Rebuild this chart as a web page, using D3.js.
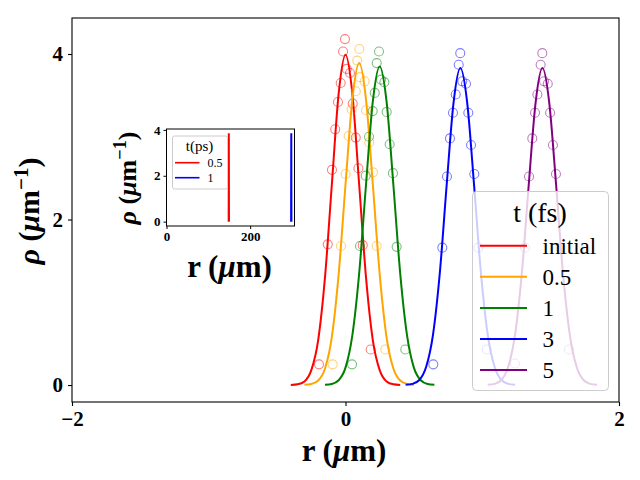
<!DOCTYPE html>
<html>
<head>
<meta charset="utf-8">
<script src="https://cdn.jsdelivr.net/npm/d3@7"></script>
<style>
  body { margin: 0; background: #fff; }
  svg { display: block; font-family: "Liberation Serif", serif; }
</style>
</head>
<body>
<div id="chart"></div>
<script>
// legend entries and colours
const seriesNames = ["initial", "0.5", "1", "3", "5"];
const seriesColors = ["red", "orange", "green", "blue", "purple"];

// fitted profiles, r in um and rho in 1/um
const curveRInitial = [-0.40, -0.35, -0.30, -0.25, -0.20, -0.15, -0.10, -0.05, 0.00, 0.05, 0.10, 0.15, 0.20, 0.25, 0.30, 0.35, 0.40];
const curveRhoInitial = [0.001, 0.009, 0.044, 0.18, 0.54, 1.30, 2.42, 3.52, 3.99, 3.52, 2.42, 1.30, 0.54, 0.18, 0.044, 0.009, 0.001];
const curveR05 = [-0.30, -0.25, -0.20, -0.15, -0.10, -0.05, 0.00, 0.05, 0.10, 0.15, 0.20, 0.25, 0.30, 0.35, 0.40, 0.45, 0.50];
const curveRho05 = [0.002, 0.012, 0.054, 0.20, 0.58, 1.34, 2.42, 3.45, 3.89, 3.45, 2.42, 1.34, 0.58, 0.20, 0.054, 0.012, 0.002];
const curveR1 = [-0.15, -0.10, -0.05, 0.00, 0.05, 0.10, 0.15, 0.20, 0.25, 0.30, 0.35, 0.40, 0.45, 0.50, 0.55, 0.60, 0.65];
const curveRho1 = [0.002, 0.013, 0.058, 0.21, 0.60, 1.35, 2.42, 3.43, 3.85, 3.43, 2.42, 1.35, 0.60, 0.21, 0.058, 0.013, 0.002];
const curveR3 = [0.44, 0.49, 0.54, 0.59, 0.64, 0.69, 0.74, 0.79, 0.84, 0.89, 0.94, 0.99, 1.04, 1.09, 1.14, 1.19, 1.24];
const curveRho3 = [0.002, 0.014, 0.061, 0.22, 0.61, 1.36, 2.42, 3.41, 3.83, 3.41, 2.42, 1.36, 0.61, 0.22, 0.061, 0.014, 0.002];
const curveR5 = [1.04, 1.09, 1.14, 1.19, 1.24, 1.29, 1.34, 1.39, 1.44, 1.49, 1.54, 1.59, 1.64, 1.69, 1.74, 1.79, 1.84];
const curveRho5 = [0.002, 0.014, 0.061, 0.22, 0.61, 1.36, 2.42, 3.41, 3.83, 3.41, 2.42, 1.36, 0.61, 0.22, 0.061, 0.014, 0.002];

// sampled points (open circles)
const dotRInitial = [-0.004, -0.018, 0.009, 0.033, -0.035, -0.055, 0.053, -0.075, 0.075, -0.099, 0.094, -0.130, 0.126, 0.184, -0.194];
const dotRhoInitial = [4.18, 4.03, 3.82, 3.77, 3.65, 3.42, 3.40, 3.09, 2.99, 2.60, 2.62, 1.70, 1.69, 0.43, 0.25];
const dotR05 = [0.101, 0.086, 0.106, 0.140, 0.075, 0.150, 0.045, 0.023, 0.174, 0.001, 0.201, -0.033, 0.228, 0.291, -0.094];
const dotRho05 = [4.06, 3.92, 3.72, 3.67, 3.55, 3.32, 3.33, 3.01, 2.93, 2.55, 2.57, 1.68, 1.68, 0.43, 0.25];
const dotR1 = [0.245, 0.228, 0.260, 0.284, 0.214, 0.301, 0.199, 0.172, 0.323, 0.148, 0.347, 0.106, 0.374, 0.437, 0.048];
const dotRho1 = [4.03, 3.89, 3.69, 3.66, 3.53, 3.30, 3.31, 3.00, 2.91, 2.53, 2.56, 1.68, 1.67, 0.43, 0.25];
const dotR3 = [0.839, 0.828, 0.854, 0.881, 0.806, 0.786, 0.898, 0.764, 0.918, 0.742, 0.942, 0.708, 0.971, 1.033, 0.642];
const dotRho3 = [4.01, 3.87, 3.67, 3.64, 3.51, 3.29, 3.29, 2.98, 2.90, 2.52, 2.55, 1.66, 1.66, 0.43, 0.25];
const dotR5 = [1.439, 1.427, 1.452, 1.479, 1.403, 1.386, 1.496, 1.366, 1.517, 1.342, 1.539, 1.313, 1.571, 1.634, 1.239];
const dotRho5 = [4.01, 3.87, 3.67, 3.64, 3.51, 3.29, 3.29, 2.98, 2.90, 2.52, 2.55, 1.66, 1.66, 0.43, 0.26];

const xTicks = [-2, 0, 2];
const yTicks = [0, 2, 4];

// inset: pulse at 0.5 ps and 1 ps (r in um)
const insetNames = ["0.5", "1"];
const insetColors = ["red", "blue"];
const insetR05 = [148.6, 149.0, 149.4];
const insetRho05 = [0, 3.85, 0];
const insetR1 = [297.9, 298.3, 298.7];
const insetRho1 = [0, 3.85, 0];
const insetXTicks = [0, 200];
const insetYTicks = [0, 2, 4];

const W = 640, H = 480;
var svg = d3.select("#chart").append("svg")
  .attr("width", W).attr("height", H);

// main axes
var x = d3.scaleLinear().domain([-2, 2]).range([72, 619]);
var y = d3.scaleLinear().domain([-0.205, 4.435]).range([402, 18]);

const zip = (a, b) => a.map((v, i) => [v, b[i]]);
var curves = [
  zip(curveRInitial, curveRhoInitial), zip(curveR05, curveRho05), zip(curveR1, curveRho1),
  zip(curveR3, curveRho3), zip(curveR5, curveRho5)
];
var dots = [
  zip(dotRInitial, dotRhoInitial), zip(dotR05, dotRho05), zip(dotR1, dotRho1),
  zip(dotR3, dotRho3), zip(dotR5, dotRho5)
];

var line = d3.line()
  .x(d => x(d[0])).y(d => y(d[1]))
  .curve(d3.curveMonotoneX);

var plot = svg.append("g");
seriesNames.forEach((name, i) => {
  plot.append("path")
    .datum(curves[i])
    .attr("d", line)
    .attr("fill", "none")
    .attr("stroke", seriesColors[i])
    .attr("stroke-width", 2);
  plot.selectAll(null)
    .data(dots[i])
    .enter().append("circle")
    .attr("cx", d => x(d[0]))
    .attr("cy", d => y(d[1]))
    .attr("r", 4.5)
    .attr("fill", "none")
    .attr("stroke", seriesColors[i])
    .attr("stroke-opacity", 0.5)
    .attr("stroke-width", 1.1);
});

// axes
var fmt = d => d < 0 ? "\u2212" + Math.abs(d) : "" + d;
var xAxis = svg.append("g")
  .attr("transform", "translate(0,402)")
  .call(d3.axisBottom(x).tickValues(xTicks).tickFormat(fmt).tickSize(4).tickPadding(5));
var yAxis = svg.append("g")
  .attr("transform", "translate(72,0)")
  .call(d3.axisLeft(y).tickValues(yTicks).tickFormat(fmt).tickSize(4).tickPadding(5));
[xAxis, yAxis].forEach(a => {
  a.select(".domain").remove();
  a.selectAll("text").attr("font-family", "Liberation Serif, serif")
    .attr("font-size", 21).attr("font-weight", "bold").attr("fill", "#000");
  a.selectAll("line").attr("stroke", "#000").attr("stroke-width", 1.1);
});
svg.append("rect")
  .attr("x", 72).attr("y", 18).attr("width", 547).attr("height", 384)
  .attr("fill", "none").attr("stroke", "#000").attr("stroke-width", 1.1);

// axis labels
function rLabel(g) {
  g.append("tspan").text("r (");
  g.append("tspan").attr("font-style", "italic").text("\u03bc");
  g.append("tspan").text("m)");
}
function rhoLabel(g, size) {
  g.append("tspan").attr("font-style", "italic").text("\u03c1");
  g.append("tspan").text(" (");
  g.append("tspan").attr("font-style", "italic").text("\u03bc");
  g.append("tspan").text("m");
  g.append("tspan").attr("font-size", size * 0.7).attr("dy", -size * 0.38).text("\u22121");
  g.append("tspan").attr("dy", size * 0.38).text(")");
}
svg.append("text")
  .attr("x", 344).attr("y", 461)
  .attr("text-anchor", "middle").attr("font-size", 31).attr("font-weight", "bold")
  .call(rLabel);
svg.append("text")
  .attr("transform", "translate(39,211) rotate(-90)")
  .attr("text-anchor", "middle").attr("font-size", 30).attr("font-weight", "bold")
  .call(g => rhoLabel(g, 30));

// main legend
var leg = svg.append("g");
leg.append("rect")
  .attr("x", 472.5).attr("y", 191.5).attr("width", 136).attr("height", 199)
  .attr("rx", 4).attr("fill", "#fff").attr("fill-opacity", 0.8)
  .attr("stroke", "#ccc").attr("stroke-width", 1);
leg.append("text")
  .attr("x", 540).attr("y", 222).attr("text-anchor", "middle")
  .attr("font-size", 28).text("t (fs)");
seriesNames.forEach((name, i) => {
  var ly = 245.7 + i * 31.1;
  leg.append("line")
    .attr("x1", 480).attr("x2", 527).attr("y1", ly).attr("y2", ly)
    .attr("stroke", seriesColors[i]).attr("stroke-width", 2);
  leg.append("text")
    .attr("x", 542.5).attr("y", ly + 8)
    .attr("font-size", 23).text(name);
});

// inset
var ix = d3.scaleLinear().domain([0, 306]).range([166.5, 294.5]);
var iy = d3.scaleLinear().domain([-0.19, 4.04]).range([226, 129]);
var inset = svg.append("g");
inset.append("rect")
  .attr("x", 166.5).attr("y", 129).attr("width", 128).attr("height", 97)
  .attr("fill", "#fff");
var iline = d3.line().x(d => ix(d[0])).y(d => iy(d[1]));
var insetCurves = [zip(insetR05, insetRho05), zip(insetR1, insetRho1)];
insetNames.forEach((name, i) => {
  inset.append("path")
    .datum(insetCurves[i])
    .attr("d", iline)
    .attr("fill", "none")
    .attr("stroke", insetColors[i])
    .attr("stroke-width", 2);
});
var ixAxis = inset.append("g")
  .attr("transform", "translate(0,226)")
  .call(d3.axisBottom(ix).tickValues(insetXTicks).tickFormat(d3.format("d")).tickSize(3).tickPadding(3));
var iyAxis = inset.append("g")
  .attr("transform", "translate(166.5,0)")
  .call(d3.axisLeft(iy).tickValues(insetYTicks).tickFormat(d3.format("d")).tickSize(3).tickPadding(3));
[ixAxis, iyAxis].forEach(a => {
  a.select(".domain").remove();
  a.selectAll("text").attr("font-family", "Liberation Serif, serif")
    .attr("font-size", 13).attr("font-weight", "bold").attr("fill", "#000");
  a.selectAll("line").attr("stroke", "#000").attr("stroke-width", 1);
});
inset.append("rect")
  .attr("x", 166.5).attr("y", 129).attr("width", 128).attr("height", 97)
  .attr("fill", "none").attr("stroke", "#000").attr("stroke-width", 1);

// inset legend
inset.append("rect")
  .attr("x", 172.5).attr("y", 136).attr("width", 55).attr("height", 53)
  .attr("rx", 2).attr("fill", "#fff").attr("fill-opacity", 0.8)
  .attr("stroke", "#ccc").attr("stroke-width", 1);
inset.append("text")
  .attr("x", 199.5).attr("y", 151).attr("text-anchor", "middle")
  .attr("font-size", 15).text("t(ps)");
insetNames.forEach((name, i) => {
  var ly = 162.7 + i * 15;
  inset.append("line")
    .attr("x1", 175).attr("x2", 199.5).attr("y1", ly).attr("y2", ly)
    .attr("stroke", insetColors[i]).attr("stroke-width", 1.6);
  inset.append("text")
    .attr("x", 207.5).attr("y", ly + 4.3)
    .attr("font-size", 12).text(name);
});

// inset axis labels
svg.append("text")
  .attr("x", 229.5).attr("y", 277)
  .attr("text-anchor", "middle").attr("font-size", 31).attr("font-weight", "bold")
  .call(rLabel);
svg.append("text")
  .attr("transform", "translate(136,178) rotate(-90)")
  .attr("text-anchor", "middle").attr("font-size", 26).attr("font-weight", "bold")
  .call(g => rhoLabel(g, 26));
</script>
</body>
</html>
